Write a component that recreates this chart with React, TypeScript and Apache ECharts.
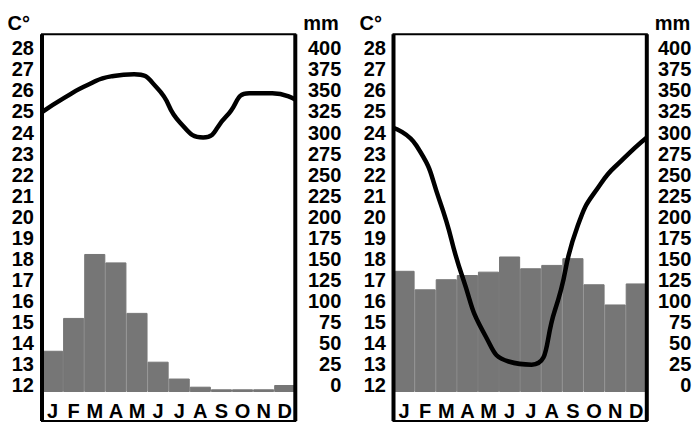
import React, { useEffect, useRef } from 'react';
import * as echarts from 'echarts';

// ---- data ----
const months = ['Jan', 'Feb', 'Mar', 'Apr', 'May', 'Jun', 'Jul', 'Aug', 'Sep', 'Oct', 'Nov', 'Dec'];
const tempLeft = [25.3, 26.0, 26.6, 27.0, 27.1, 26.45, 24.8, 24.1, 25.1, 26.2, 26.2, 25.9];
const precipLeft = [49, 88, 164, 154, 94, 36, 16, 6.3, 3.2, 3.2, 3.2, 8.3];
const tempRight = [24.55, 23.7, 21.1, 17.45, 14.65, 13.45, 13.3, 15.85, 19.9, 21.9, 23.1, 24.1];
const precipRight = [144, 122, 134, 139, 143, 161, 147, 151, 159, 128, 104, 129];
const tempAxis = { min: 12, max: 29, interval: 1, unit: 'C°' };
const precipAxis = { min: 0, max: 425, interval: 25, unit: 'mm' };

// ---- layout ----
const W = 699;
const H = 423;
const FONT = '"Liberation Sans", Arial, Helvetica, sans-serif';
const TOP = 34.3;
const BASE = 392;
const FRAME_BOTTOM = 421;
const PLOT_W = 253.3;
const LEFTS = [42, 393.5];
const RIGHT_MARGINS = [46, 44.5];
const LEFT_MARGINS = [8, 7.5];
const BAR_FILL = '#767676';

const textBase = { fontFamily: FONT, fontWeight: 'bold' as const, fontSize: 20, color: '#000' };

export default function App() {
  const ref = useRef<HTMLDivElement>(null);
  useEffect(() => {
    document.body.style.margin = '0';
    if (!ref.current) return;
    const chart = echarts.init(ref.current, undefined, { renderer: 'svg' });
    const charts = [
      { temp: tempLeft, precip: precipLeft },
      { temp: tempRight, precip: precipRight },
    ];
    const grid: any[] = [];
    const xAxis: any[] = [];
    const yAxis: any[] = [];
    const series: any[] = [];
    const graphic: any[] = [];
    charts.forEach((c, i) => {
      const left = LEFTS[i];
      grid.push({ left, top: TOP, width: PLOT_W, height: BASE - TOP, containLabel: false, outerBoundsMode: 'none' });
      xAxis.push({
        type: 'category', gridIndex: i, data: months, boundaryGap: true,
        axisLine: { show: false }, axisTick: { show: false }, splitLine: { show: false },
        axisLabel: { ...textBase, interval: 0, margin: 9, formatter: (v: string) => v.charAt(0) },
      });
      xAxis.push({ type: 'category', gridIndex: i, data: months, boundaryGap: false, show: false });
      yAxis.push({
        type: 'value', gridIndex: i, position: 'left', min: tempAxis.min, max: tempAxis.max, interval: tempAxis.interval,
        axisLine: { show: false }, axisTick: { show: false }, splitLine: { show: false },
        axisLabel: { ...textBase, showMaxLabel: false, margin: LEFT_MARGINS[i], verticalAlign: 'bottom', lineHeight: 14 },
        name: tempAxis.unit, nameLocation: 'end', nameGap: 11.5,
        nameTextStyle: { ...textBase, align: 'right', verticalAlign: 'middle', padding: [0, LEFT_MARGINS[i] + 4, 0, 0] },
      });
      yAxis.push({
        type: 'value', gridIndex: i, position: 'right', min: precipAxis.min, max: precipAxis.max, interval: precipAxis.interval,
        axisLine: { show: false }, axisTick: { show: false }, splitLine: { show: false },
        axisLabel: { ...textBase, showMaxLabel: false, margin: RIGHT_MARGINS[i], align: 'right', verticalAlign: 'bottom', lineHeight: 14 },
        name: precipAxis.unit, nameLocation: 'end', nameGap: 11.5,
        nameTextStyle: { ...textBase, align: 'left', verticalAlign: 'middle', padding: [0, 0, 0, 8] },
      });
      series.push({
        type: 'bar', xAxisIndex: i * 2, yAxisIndex: i * 2 + 1, data: c.precip,
        barCategoryGap: '0%', barGap: '0%',
        itemStyle: { color: BAR_FILL, borderColor: BAR_FILL, borderWidth: 1 }, z: 2,
      });
      series.push({
        type: 'line', xAxisIndex: i * 2 + 1, yAxisIndex: i * 2, data: c.temp, smooth: 0.55, symbol: 'none',
        lineStyle: { color: '#000', width: 4.5 }, z: 3,
      });
      graphic.push({
        type: 'rect', z: 10,
        shape: { x: left, y: TOP, width: PLOT_W, height: FRAME_BOTTOM - TOP },
        style: { fill: 'none', stroke: '#000', lineWidth: 2 },
      });
      graphic.push({
        type: 'line', z: 10,
        shape: { x1: left, y1: TOP, x2: left, y2: FRAME_BOTTOM },
        style: { stroke: '#000', lineWidth: 4 },
      });
      graphic.push({
        type: 'line', z: 10,
        shape: { x1: left + PLOT_W, y1: TOP, x2: left + PLOT_W, y2: FRAME_BOTTOM },
        style: { stroke: '#000', lineWidth: 4 },
      });
    });
    chart.setOption({
      animation: false,
      backgroundColor: '#fff',
      grid, xAxis, yAxis, series, graphic,
    });
    return () => chart.dispose();
  }, []);
  return <div ref={ref} style={{ width: W, height: H }} />;
}
